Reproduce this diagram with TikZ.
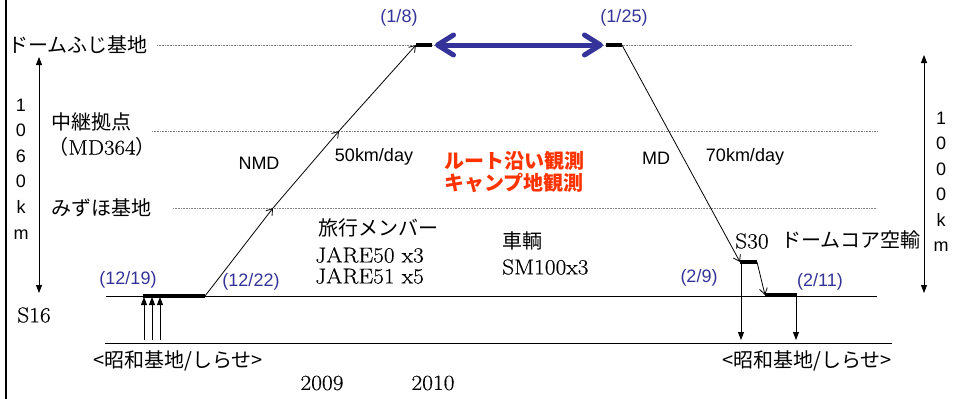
\documentclass[tikz,border=0pt]{standalone}
\usepackage{fontspec}
\newfontfamily\jp{Noto Sans CJK JP}
\newfontfamily\ar{Liberation Sans}
\newfontfamily\srf[FakeStretch=1.09,FakeBold=0.4]{Latin Modern Roman}
\usetikzlibrary{arrows.meta}
\definecolor{dateblue}{RGB}{51,51,153}
\definecolor{obsred}{RGB}{255,51,0}
\begin{document}
\begin{tikzpicture}[x=1pt,y=-1pt,
  jl/.style={font=\jp\fontsize{20}{22}\selectfont,inner sep=0pt},
  sl/.style={font=\ar\fontsize{18}{20}\selectfont,inner sep=0pt},
  rl/.style={font=\srf\fontsize{21.5}{22}\selectfont,inner sep=0pt},
  dl/.style={sl,text=dateblue},
  dotl/.style={draw=gray,line width=0.7pt,dash pattern=on 0.7pt off 0.9pt},
  thinl/.style={line width=0.8pt},
  barl/.style={line width=4pt},
  openarr/.style={thinl,-{Straight Barb[length=6pt,width=8pt]}},
  filarr/.style={thinl,-{Triangle[length=8pt,width=6pt]}},
  bluearr/.style={line width=5pt,draw=dateblue,line cap=round,
    {Straight Barb[length=16pt,width=20pt,round]}-{Straight Barb[length=16pt,width=20pt,round]}},
]
\useasboundingbox (0,0) rectangle (954,399);

% level lines
\draw[dotl] (157,45) -- (853,45);
\draw[dotl] (152,131) -- (877,131);
\draw[dotl] (173,208) -- (877,208);
\draw[thinl] (106,296) -- (877,296);
\draw[thinl] (105,343) -- (892,343);

% left labels
\node[jl,anchor=east] (fuji) at (148,45) {ドームふじ基地};
\node[jl] (relay) at (91,122) {中継拠点};
\node[inner sep=0pt] (md364) at (102,147) {\jp\fontsize{20}{22}\selectfont （\srf\fontsize{21}{22}\selectfont MD364\jp\fontsize{20}{22}\selectfont ）};
\node[jl] (mizuho) at (101,208) {みずほ基地};
\node[rl] (s16) at (34,315) {S16};
\node[jl] (showaL) at (178,361) {<昭和基地/しらせ>};
\node[jl] (showaR) at (807,361) {<昭和基地/しらせ>};
\node[rl] (y2009) at (322,383) {2009};
\node[rl] (y2010) at (433,383) {2010};

% frame line
\draw[line width=2.5pt] (6,0) -- (6,399);

% distance arrows
\coordinate (lt) at (39,57); \coordinate (lb) at (39,293);
\draw[thinl,{Triangle[length=8pt,width=6pt]}-{Triangle[length=8pt,width=6pt]}] (lt) -- (lb);
\node[sl,align=center,font=\ar\fontsize{18}{25.6}\selectfont] (dl1) at (21,169) {1\\0\\6\\0\\k\\m};
\coordinate (rt) at (924,55); \coordinate (rb) at (924,293);
\draw[thinl,{Triangle[length=8pt,width=6pt]}-{Triangle[length=8pt,width=6pt]}] (rt) -- (rb);
\node[sl,align=center,font=\ar\fontsize{18}{25.5}\selectfont] (dl2) at (941,182) {1\\0\\0\\0\\k\\m};

% dates
\node[dl] (d1219) at (128,280) {(12/19)};
\node[dl] (d1222) at (251,282) {(12/22)};
\node[dl] (d18) at (399,18) {(1/8)};
\node[dl] (d125) at (624,18) {(1/25)};
\node[dl] (d29) at (699,278) {(2/9)};
\node[dl] (d211) at (820,282) {(2/11)};

% route labels
\node[sl] (nmd) at (259,163) {NMD};
\node[sl] (v50) at (374,157) {50km/day};
\node[sl] (md) at (656,158) {MD};
\node[sl] (v70) at (745,157) {70km/day};
\node[jl,font=\jp\bfseries\fontsize{20}{22}\selectfont,text=obsred,align=center] (obs) at (514,172) {ルート沿い観測\\キャンプ地観測};
\node[jl] (member) at (378,228) {旅行メンバー};
\node[rl,anchor=west] (j50) at (315,255) {JARE50 x3};
\node[rl,anchor=west] (j51) at (315,276) {JARE51 x5};
\node[jl,anchor=west] (veh) at (502,241) {車輌};
\node[rl,anchor=west] (sm) at (502,267) {SM100x3};
\node[rl,anchor=west] (s30) at (735,241) {S30};
\node[jl,anchor=west] (core) at (781,240) {ドームコア空輸};

% route
\coordinate (b0) at (143,296); \coordinate (p0) at (205,296);
\coordinate (u1s) at (144,340); \coordinate (u1e) at (144,297);
\coordinate (u2s) at (152,340); \coordinate (u2e) at (152,297);
\coordinate (u3s) at (160,340); \coordinate (u3e) at (160,297);
\coordinate (p1) at (273,208); \coordinate (p2) at (339,131); \coordinate (p3) at (416,45);
\coordinate (f1) at (432,45); \coordinate (f2) at (606,45); \coordinate (f3) at (622,45);
\coordinate (q1) at (740,262); \coordinate (q2) at (757,262);
\coordinate (q3) at (765,295); \coordinate (q4) at (797,295);
\coordinate (q1d) at (741,340); \coordinate (q4d) at (796,340);
\coordinate (q1u) at (741,262); \coordinate (q4u) at (796,295);

\draw[filarr] (u1s) -- (u1e);
\draw[filarr] (u2s) -- (u2e);
\draw[filarr] (u3s) -- (u3e);
\draw[barl] (b0) -- (p0);
\draw[openarr] (p0) -- (p1);
\draw[openarr] (p1) -- (p2);
\draw[openarr] (p2) -- (p3);
\draw[barl] (p3) -- (f1);
\draw[bluearr] ([xshift=3pt]f1) -- ([xshift=-3pt]f2);
\draw[barl] (f2) -- (f3);
\draw[openarr] (f3) -- (q1);
\draw[barl] (q1) -- (q2);
\draw[openarr] (q2) -- (q3);
\draw[barl] (q3) -- (q4);
\draw[filarr] (q1u) -- (q1d);
\draw[filarr] (q4u) -- (q4d);
\end{tikzpicture}
\end{document}
